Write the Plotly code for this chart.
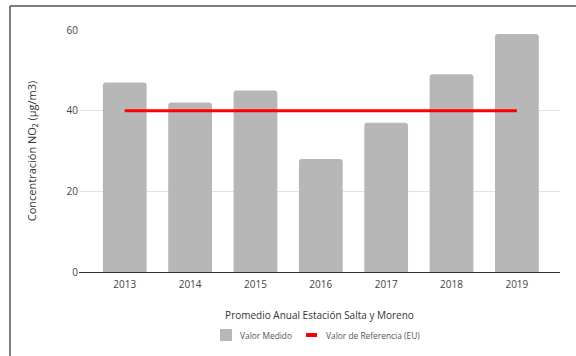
import plotly.graph_objects as go

years = ["2013", "2014", "2015", "2016", "2017", "2018", "2019"]
medido = [47, 42, 45, 28, 37, 49, 59]
referencia = [40, 40, 40, 40, 40, 40, 40]
legend_names = ["Valor Medido", "Valor de Referencia (EU)"]
bar_color = "#b7b7b7"
ref_color = "#ff0000"

W, H = 576, 356
ML, MR, MT, MB = 79, 16, 30, 84
pw, ph = W - ML - MR, H - MT - MB


def px_x(p):
    return (p - ML) / pw


def px_y(p):
    return (H - MB - p) / ph


fig = go.Figure()
fig.add_trace(go.Bar(
    x=years, y=medido, name=legend_names[0],
    marker=dict(color=bar_color, cornerradius=3, line=dict(width=0)),
))
fig.add_trace(go.Scatter(
    x=years, y=referencia, name=legend_names[1], mode="lines",
    line=dict(color=ref_color, width=3),
))

# border of the original chart frame (cropped)
bx0 = px_x(10)
by1 = px_y(6)
fig.add_shape(type="line", xref="paper", yref="paper", x0=bx0, x1=bx0, y0=-1, y1=by1,
              line=dict(color="#555555", width=1.5))
fig.add_shape(type="line", xref="paper", yref="paper", x0=bx0, x1=1.2, y0=by1, y1=by1,
              line=dict(color="#555555", width=1.5))

# manual legend
ly = 335
fig.add_shape(type="rect", xref="paper", yref="paper",
              x0=px_x(220), x1=px_x(232), y0=px_y(341), y1=px_y(329),
              fillcolor=bar_color, line=dict(width=0))
fig.add_annotation(xref="paper", yref="paper", x=px_x(238), y=px_y(ly), text=legend_names[0],
                   showarrow=False, xanchor="left", yanchor="middle",
                   font=dict(size=8.4, color="#555555"))
fig.add_shape(type="line", xref="paper", yref="paper",
              x0=px_x(306), x1=px_x(317), y0=px_y(ly), y1=px_y(ly),
              line=dict(color=ref_color, width=4))
fig.add_annotation(xref="paper", yref="paper", x=px_x(324), y=px_y(ly), text=legend_names[1],
                   showarrow=False, xanchor="left", yanchor="middle",
                   font=dict(size=8.4, color="#555555"))

fig.update_layout(
    width=W, height=H,
    margin=dict(l=ML, r=MR, t=MT, b=MB),
    paper_bgcolor="white", plot_bgcolor="white",
    font=dict(family="Open Sans", size=10, color="#444444"),
    bargap=0.33,
    showlegend=False,
    xaxis=dict(
        type="category", range=[-0.70, 6.66], automargin=False,
        showgrid=False, ticks="", showline=True, linecolor="#333333", linewidth=1,
        tickfont=dict(size=10, color="#444444"), ticklabelstandoff=3,
        title=dict(text="Promedio Anual Estación Salta y Moreno",
                   font=dict(size=10, color="#333333"), standoff=21),
    ),
    yaxis=dict(
        range=[0, 60], tickvals=[0, 20, 40, 60], automargin=False,
        showgrid=True, gridcolor="#e3e3e3", gridwidth=1,
        zeroline=False, showline=False, ticks="",
        tickfont=dict(size=10, color="#444444"),
        title=dict(text="Concentración NO₂ (µg/m3)", font=dict(size=11, color="#333333"),
                   standoff=27),
    ),
)

fig.write_html("out.html")
